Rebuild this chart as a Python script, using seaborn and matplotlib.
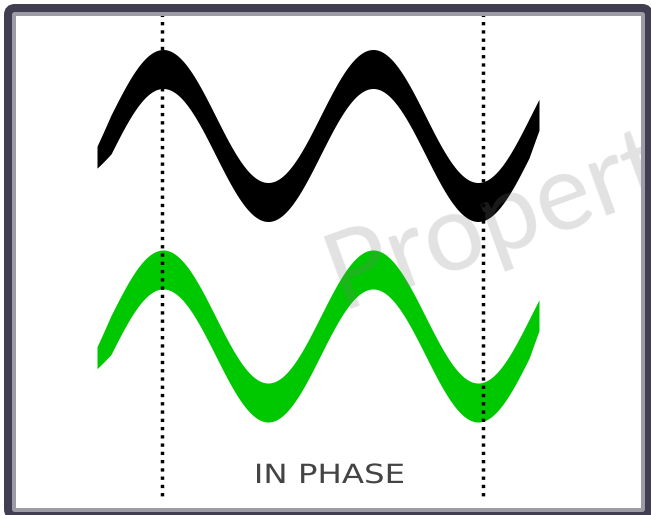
import numpy as np
import pandas as pd
import matplotlib
matplotlib.use('Agg')
import matplotlib.pyplot as plt
import seaborn as sns
from matplotlib.patches import FancyBboxPatch, Rectangle, PathPatch
from matplotlib.textpath import TextPath
from matplotlib.font_manager import FontProperties
from matplotlib.transforms import Affine2D

# Wave parameters (pixel units, y grows downwards)
wave_labels = ['reference', 'in phase']
wave_colors = ['#000000', '#00c800']
wave_centers = [135.5, 336.0]
wave_amplitude = 66.5
wave_period = 210.0
wave_peak_x = 163.0
wave_x_start = 97.0
wave_x_end = 539.0
wave_thickness = 39.0

# Dotted phase guides
guide_x = [162, 483]
guide_y = [5, 499]

caption = 'IN PHASE'
watermark = 'Propert'

sns.set_theme(style='white')

fig = plt.figure(figsize=(6.51, 5.15), dpi=100)
ax = fig.add_axes([0, 0, 1, 1])
ax.set_xlim(0, 651)
ax.set_ylim(515, 0)
ax.axis('off')

# Waves drawn as filled bands, brush-like ends slightly tapered
x = np.linspace(wave_x_start, wave_x_end, 800)
half = wave_thickness / 2
left_cut = np.clip((x - wave_x_start) / 14, 0, 1)
right_cut = np.clip((wave_x_end - x) / 10, 0, 1)
for label, color, center in zip(wave_labels, wave_colors, wave_centers):
    mid = center - wave_amplitude * np.cos(2 * np.pi * (x - wave_peak_x) / wave_period)
    top = mid - half + 4 * (1 - left_cut)
    bottom = mid + half - 13 * (1 - left_cut) - 8 * (1 - right_cut)
    ax.fill_between(x, top, bottom, color=color, lw=0, zorder=2, label=label)

# Vertical dotted guides
guides = pd.DataFrame({
    'x': [gx for gx in guide_x for _ in guide_y],
    'y': guide_y * len(guide_x),
    'line': [i for i in range(len(guide_x)) for _ in guide_y],
})
sns.lineplot(data=guides, x='x', y='y', units='line', estimator=None, sort=False,
             color='black', lw=2.5, linestyle=(0, (0.95, 1.43)),
             dash_capstyle='butt', legend=False, ax=ax, zorder=4)

# Frame: dark rounded outline with a thin light gray inner edge
inner = Rectangle((14, 14), 629, 496, fill=False, edgecolor='#9d9ca6',
                  lw=4 * 0.72, zorder=6)
ax.add_patch(inner)
ax.add_patch(FancyBboxPatch((8, 8), 641, 508, boxstyle='round,pad=0,rounding_size=7',
                            fill=False, edgecolor='#403e50', lw=8 * 0.72, zorder=7))

# Watermark, running under the frame as in the picture
wm = ax.text(340, 309, watermark, rotation=20, rotation_mode='anchor',
             ha='left', va='baseline', fontsize=76, family='Lato',
             fontweight='normal', color='#7a7a7a', alpha=0.22, zorder=3)
wm.set_clip_path(inner)

# Caption, stretched to the width seen in the picture
tp = TextPath((0, 0), caption, size=1, prop=FontProperties(family='DejaVu Sans'))
ext = tp.get_extents()
sx = 146 / ext.width
sy = 20 / ext.height
tr = Affine2D().translate(-ext.x0, 0).scale(sx, -sy).translate(257, 483)
ax.add_patch(PathPatch(tr.transform_path(tp), facecolor='#444444', lw=0, zorder=5))

fig.savefig('out.png', dpi=100)
